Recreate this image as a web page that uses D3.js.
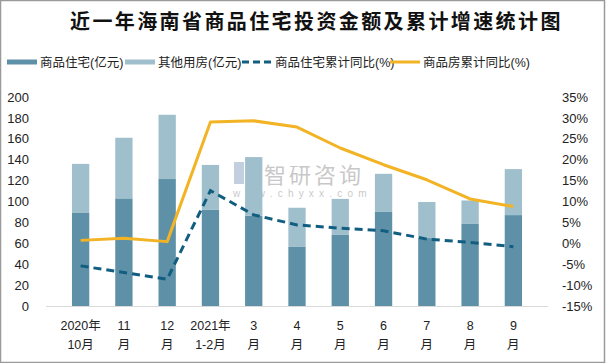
<!DOCTYPE html>
<html>
<head>
<meta charset="utf-8">
<script src="https://cdn.jsdelivr.net/npm/d3@7"></script>
<style>
  body { margin: 0; background: #fff; }
  svg text { font-family: "Liberation Sans", "Noto Sans CJK SC", sans-serif; }
</style>
</head>
<body>
<div id="chart"></div>
<script>
// data
const months = [
  ["2020年", "10月"], ["11", "月"], ["12", "月"], ["2021年", "1-2月"],
  ["3", "月"], ["4", "月"], ["5", "月"], ["6", "月"], ["7", "月"], ["8", "月"], ["9", "月"]
];
const housing = [89, 103, 121.5, 92, 86.5, 56.5, 68, 90, 65, 78.5, 87];
const otherUse = [47, 58, 61.5, 43, 56, 37.5, 34.5, 36.5, 34.5, 22.5, 44];
const housingGrowth = [-5.4, -7.0, -8.6, 12.6, 6.8, 4.4, 3.6, 3.0, 1.0, 0.2, -0.8];
const totalGrowth = [0.7, 1.2, 0.4, 29.0, 29.3, 27.8, 22.8, 18.8, 15.2, 10.6, 8.8];
const leftTicks = [0, 20, 40, 60, 80, 100, 120, 140, 160, 180, 200];
const rightTicks = [-15, -10, -5, 0, 5, 10, 15, 20, 25, 30, 35];

const W = 606, H = 363;
const margin = { top: 97, right: 58, bottom: 57, left: 46 };

const colors = {
  housing: "#5e91a8",
  other: "#a0bfcc",
  dash: "#125e80",
  gold: "#f2b325"
};

const svg = d3.select("#chart").append("svg")
  .attr("width", W).attr("height", H);

svg.append("rect")
  .attr("x", 0.5).attr("y", 0.5)
  .attr("width", W - 2).attr("height", H - 1)
  .attr("fill", "#fff").attr("stroke", "#9a9a9a").attr("stroke-width", 1.5);

svg.append("text")
  .attr("x", 70).attr("y", 29)
  .attr("font-family", "Noto Sans CJK SC")
  .attr("font-weight", "bold")
  .attr("font-size", 20)
  .attr("letter-spacing", 2.4)
  .attr("fill", "#111")
  .text("近一年海南省商品住宅投资金额及累计增速统计图");

// legend
const legend = [
  { label: "商品住宅(亿元)", x: 7, type: "bar", color: colors.housing },
  { label: "其他用房(亿元)", x: 125, type: "bar", color: colors.other },
  { label: "商品住宅累计同比(%)", x: 242, type: "dash", color: colors.dash },
  { label: "商品房累计同比(%)", x: 390, type: "line", color: colors.gold }
];
const lg = svg.append("g").selectAll("g").data(legend).join("g")
  .attr("transform", d => `translate(${d.x},62)`);
lg.append("line")
  .attr("x1", 0).attr("x2", 30).attr("y1", 0).attr("y2", 0)
  .attr("stroke", d => d.color)
  .attr("stroke-width", d => d.type === "bar" ? 5 : 3)
  .attr("stroke-dasharray", d => d.type === "dash" ? "7,4" : null);
lg.append("text")
  .attr("x", 33).attr("y", 4.5)
  .attr("font-family", "Noto Sans CJK SC")
  .attr("font-size", 12.5)
  .attr("fill", "#222")
  .text(d => d.label);

const x = d3.scaleBand()
  .domain(d3.range(months.length))
  .range([margin.left, W - margin.right])
  .padding(0.6);

const y = d3.scaleLinear().domain([0, 200]).range([H - margin.bottom, margin.top]);
const y2 = d3.scaleLinear().domain([-15, 35]).range([H - margin.bottom, margin.top]);

// watermark
const wm = svg.append("g").attr("opacity", 0.55);
wm.append("rect").attr("x", 234).attr("y", 162).attr("width", 10).attr("height", 22).attr("fill", "#8fa9c6");
wm.append("rect").attr("x", 246).attr("y", 162).attr("width", 10).attr("height", 22).attr("fill", "#a9bdd6");
wm.append("text").attr("x", 264).attr("y", 183)
  .attr("font-family", "Noto Sans CJK SC").attr("font-size", 22)
  .attr("letter-spacing", 3).attr("fill", "#9c9c9c").text("智研咨询");
wm.append("text").attr("x", 233).attr("y", 197)
  .attr("font-size", 10).attr("letter-spacing", 5.2).attr("fill", "#9c9c9c").text("www.chyxx.com");

// stacked bars
const stacked = months.map((m, i) => ({ i, a: housing[i], b: otherUse[i] }));
svg.append("g").selectAll("rect").data(stacked).join("rect")
  .attr("x", d => x(d.i)).attr("width", x.bandwidth())
  .attr("y", d => y(d.a)).attr("height", d => y(0) - y(d.a))
  .attr("fill", colors.housing);
svg.append("g").selectAll("rect").data(stacked).join("rect")
  .attr("x", d => x(d.i)).attr("width", x.bandwidth())
  .attr("y", d => y(d.a + d.b)).attr("height", d => y(d.a) - y(d.a + d.b))
  .attr("fill", colors.other);

// baseline
svg.append("line")
  .attr("x1", margin.left).attr("x2", W - margin.right)
  .attr("y1", y(0) + 0.5).attr("y2", y(0) + 0.5)
  .attr("stroke", "#d9d9d9");

const cx = i => x(i) + x.bandwidth() / 2;
const line = vals => d3.line().x((d, i) => cx(i)).y(d => y2(d))(vals);

svg.append("path").attr("d", line(housingGrowth))
  .attr("fill", "none").attr("stroke", colors.dash)
  .attr("stroke-width", 3).attr("stroke-dasharray", "8,5");
svg.append("path").attr("d", line(totalGrowth))
  .attr("fill", "none").attr("stroke", colors.gold)
  .attr("stroke-width", 3).attr("stroke-linejoin", "round");

// left axis
const yAxis = d3.axisLeft(y).tickValues(leftTicks).tickSize(0).tickPadding(17);
svg.append("g").attr("transform", `translate(${margin.left},0)`).call(yAxis)
  .call(g => g.select(".domain").remove())
  .call(g => g.selectAll("text").attr("font-size", 13).attr("fill", "#222"));

// right axis
const y2Axis = d3.axisRight(y2).tickValues(rightTicks).tickSize(0).tickPadding(14)
  .tickFormat(d => d + "%");
svg.append("g").attr("transform", `translate(${W - margin.right},0)`).call(y2Axis)
  .call(g => g.select(".domain").remove())
  .call(g => g.selectAll("text").attr("font-size", 13).attr("fill", "#222"));

// category labels
const xl = svg.append("g").selectAll("text").data(months).join("text")
  .attr("x", (d, i) => cx(i))
  .attr("text-anchor", "middle")
  .attr("font-family", "Noto Sans CJK SC")
  .attr("font-size", 12.5)
  .attr("fill", "#222");
xl.append("tspan").attr("x", (d, i) => cx(i)).attr("y", 330).text(d => d[0]);
xl.append("tspan").attr("x", (d, i) => cx(i)).attr("y", 349).text(d => d[1]);
</script>
</body>
</html>
